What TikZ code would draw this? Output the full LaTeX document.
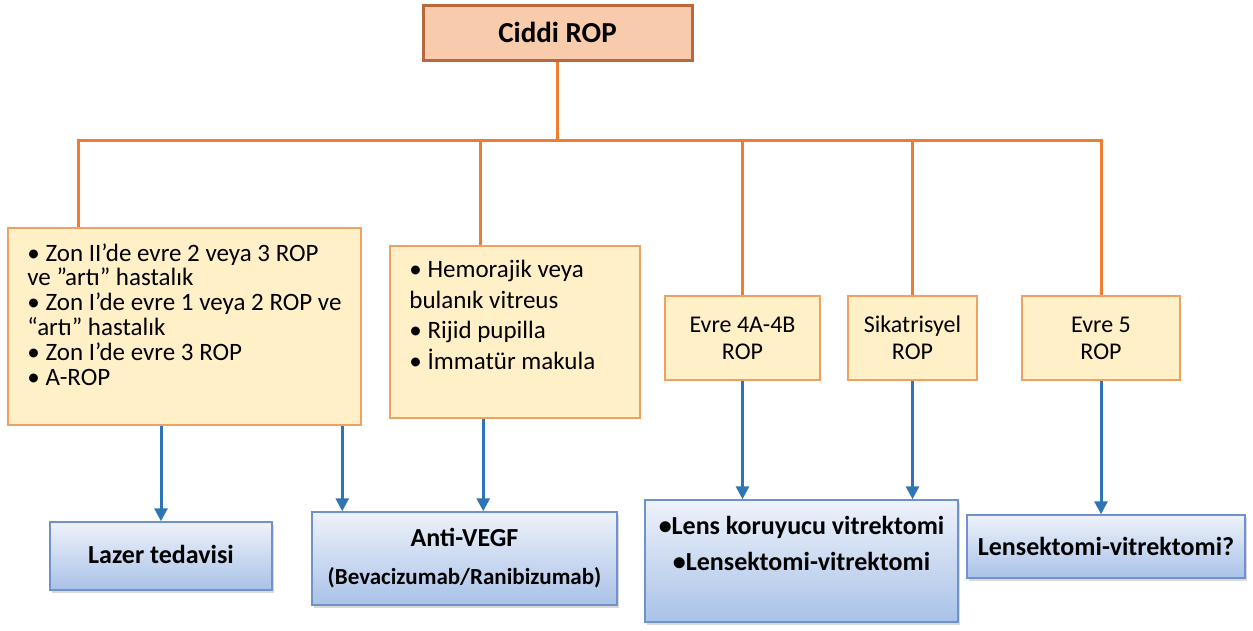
\documentclass[tikz,border=0pt]{standalone}
\usepackage{fontspec}
\setmainfont{Carlito}
\usetikzlibrary{positioning,shadows,arrows.meta}
\setlength{\lineskiplimit}{-100pt}

\definecolor{ropline}{HTML}{ED7D31}
\definecolor{ropfill}{HTML}{F8CBAD}
\definecolor{ropedge}{HTML}{B8683A}
\definecolor{stagefill}{HTML}{FFF0C8}
\definecolor{stageedge}{HTML}{F0A060}
\definecolor{txedge}{HTML}{6F93C8}
\definecolor{txtop}{HTML}{EEF2FA}
\definecolor{txbot}{HTML}{A9C2E8}
\definecolor{arrowblue}{HTML}{2E75B6}

\tikzset{
  rootbox/.style={draw=ropedge, line width=3pt, fill=ropfill, inner sep=0pt,
    drop shadow={opacity=0.35, shadow xshift=2pt, shadow yshift=-2pt},
    font=\fontsize{29}{32}\selectfont\bfseries},
  stagebox/.style={draw=stageedge, line width=1.6pt, fill=stagefill, inner sep=0pt,
    align=center, font=\fontsize{24}{27}\selectfont},
  stagetext/.style={font=\fontsize{25}{24.8}\selectfont, align=left, inner sep=0pt, anchor=north west},
  txbox/.style={draw=txedge, line width=1.5pt, top color=txtop, bottom color=txbot, inner sep=0pt,
    drop shadow={opacity=0.3, shadow xshift=2pt, shadow yshift=-3pt},
    align=center, font=\fontsize{26}{30}\selectfont\bfseries},
  branch/.style={ropline, line width=3pt},
  treat/.style={arrowblue, line width=3pt, -{Triangle[length=13pt,width=13pt]}},
}

\begin{document}
\begin{tikzpicture}[x=1pt,y=-1pt]
  \useasboundingbox (0,0) rectangle (1253,630);

  % root
  \node[rootbox, minimum width=269, minimum height=55] (root) at (557.5,32.5) {Ciddi ROP};

  % stages
  \node[stagebox, minimum width=353, minimum height=197] (zon) at (184.5,326.5) {};
  \node[stagetext] (zontext) at ([shift={(20,16)}]zon.north west)
    {• Zon II’de evre 2 veya 3 ROP\\ve ”artı” hastalık\\• Zon I’de evre 1 veya 2 ROP ve\\“artı” hastalık\\• Zon I’de evre 3 ROP\\• A-ROP};
  \node[stagebox, minimum width=250, minimum height=172] (hemo) at (515,332) {};
  \node[stagetext, font=\fontsize{25}{30.5}\selectfont] (hemotext) at ([shift={(20,15)}]hemo.north west)
    {• Hemorajik veya\\bulanık vitreus\\• Rijid pupilla\\• İmmatür makula};
  \node[stagebox, minimum width=155, minimum height=84] (evre4) at (742.5,338) {Evre 4A-4B\\ROP};
  \node[stagebox, minimum width=129, minimum height=84] (sik) at (912.5,338) {Sikatrisyel\\ROP};
  \node[stagebox, minimum width=158, minimum height=84] (evre5) at (1101,338) {Evre 5\\ROP};

  % treatments
  \node[txbox, minimum width=222, minimum height=68] (lazer) at (161,556) {\raisebox{4pt}{Lazer tedavisi}};
  \node[txbox, minimum width=305, minimum height=93, font=\fontsize{26}{38}\selectfont\bfseries] (anti) at (464.5,558.5)
    {Anti-VEGF\\{\fontsize{23}{26}\selectfont(Bevacizumab/Ranibizumab)}};
  \node[txbox, minimum width=313, minimum height=122] (lens) at (801.5,561) {};
  \node[anchor=north, align=center, inner sep=0pt, font=\fontsize{26}{36}\selectfont\bfseries] (lenstext)
    at ([yshift=-17pt]lens.north) {•Lens koruyucu vitrektomi\\•Lensektomi-vitrektomi};
  \node[txbox, minimum width=278, minimum height=63] (lensx) at (1106,546.5) {Lensektomi-vitrektomi?};

  % orange tree
  \coordinate (hub) at (557.5,140);
  \coordinate (b1) at (78,140);
  \coordinate (b2) at (480,140);
  \draw[branch] (root.south) -- (hub);
  \draw[branch, line cap=rect] (b1) -- (evre5.north |- hub);
  \draw[branch] (b1) -- (b1 |- zon.north);
  \draw[branch] (b2) -- (b2 |- hemo.north);
  \draw[branch] (evre4.north |- hub) -- (evre4.north);
  \draw[branch] (sik.north |- hub) -- (sik.north);
  \draw[branch] (evre5.north |- hub) -- (evre5.north);

  % blue arrows
  \coordinate (a2) at ([xshift=31pt]anti.north west);
  \coordinate (a3) at ([xshift=172pt]anti.north west);
  \draw[treat] (zon.south -| lazer.north) -- (lazer.north);
  \draw[treat] (zon.south -| a2) -- (a2);
  \draw[treat] (hemo.south -| a3) -- (a3);
  \draw[treat] (evre4.south) -- (evre4.south |- lens.north);
  \draw[treat] (sik.south) -- (sik.south |- lens.north);
  \draw[treat] (evre5.south) -- (evre5.south |- lensx.north);
\end{tikzpicture}
\end{document}
